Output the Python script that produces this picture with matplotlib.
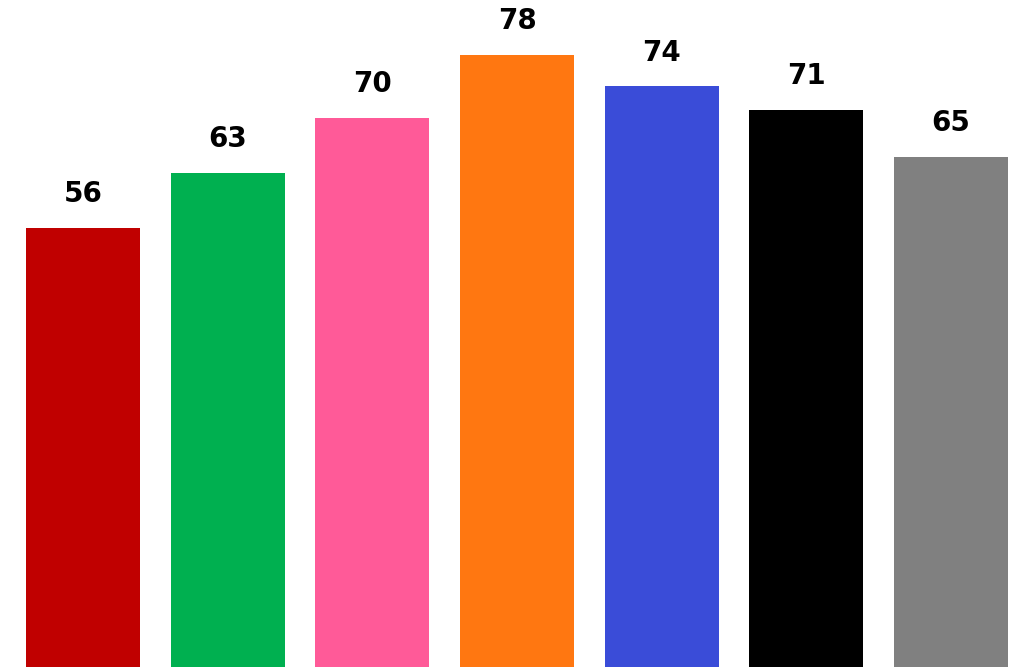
import matplotlib
matplotlib.use("Agg")
import matplotlib.pyplot as plt

categories = ["A", "B", "C", "D", "E", "F", "G"]
values = [56, 63, 70, 78, 74, 71, 65]
colors = ["#C00000", "#00B050", "#FF5A98", "#FF7711", "#3A4CD8", "#000000", "#808080"]

fig = plt.figure(figsize=(10.21, 6.67), dpi=100)
ax = fig.add_axes([0, 0, 1, 1])
x = list(range(len(categories)))
bars = ax.bar(x, values, width=0.79, color=colors)
for xi, v in zip(x, values):
    ax.annotate(str(v), (xi, v), xytext=(0, 18.5), textcoords="offset points",
                ha="center", va="baseline", fontsize=20, fontweight="bold",
                family="DejaVu Sans", color="#000000")
ax.set_xlim(-0.574, 6.484)
ax.set_ylim(0, 85)
ax.axis("off")
fig.savefig("out.png", dpi=100)
